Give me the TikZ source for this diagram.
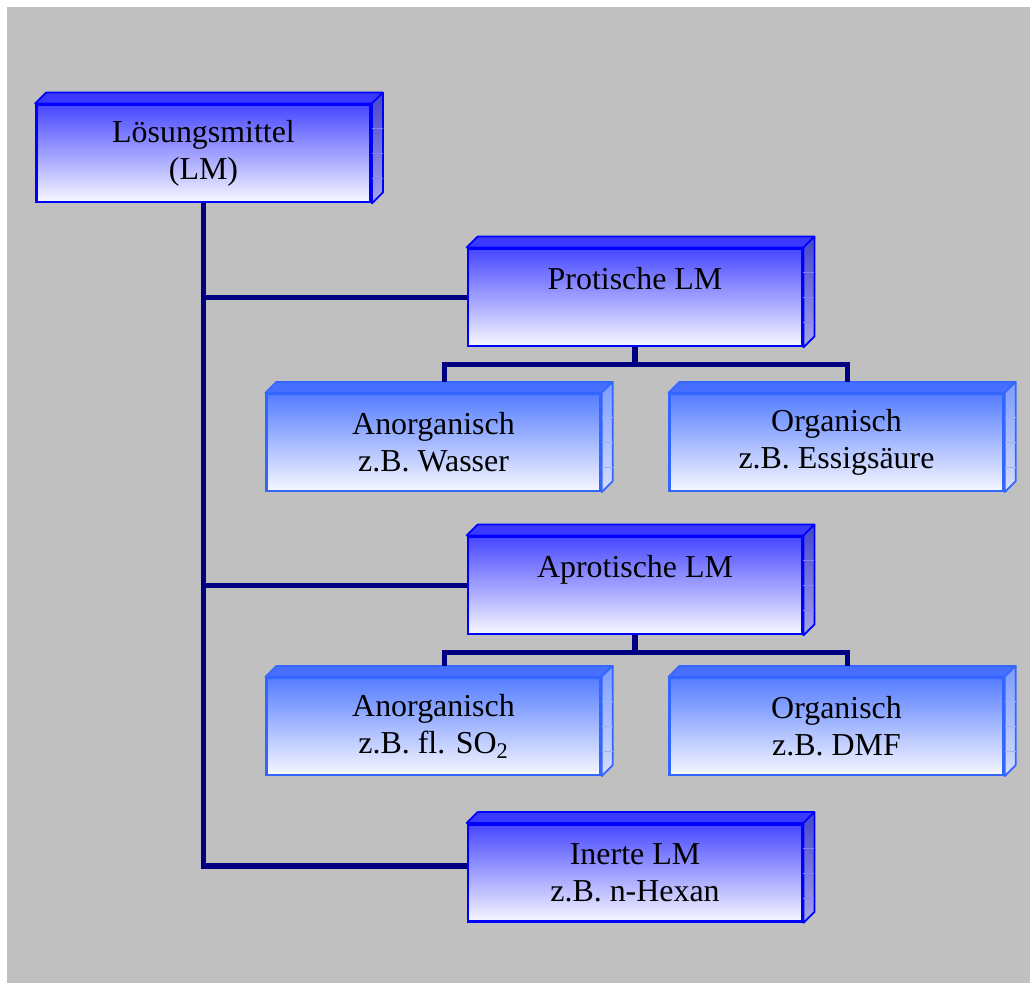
\documentclass[tikz,border=0pt]{standalone}
\usepackage{fontspec}
\setmainfont{Liberation Serif}
\usetikzlibrary{calc}
\definecolor{bggrey}{RGB}{192,192,192}
\definecolor{wirenavy}{RGB}{0,0,128}
\definecolor{mainedge}{RGB}{0,0,255}
\definecolor{maintop}{RGB}{58,58,255}
\definecolor{mainfront}{RGB}{72,72,255}
\definecolor{mainside}{RGB}{68,68,205}
\definecolor{mainsidelow}{RGB}{165,165,235}
\definecolor{subedge}{RGB}{51,102,255}
\definecolor{subtop}{RGB}{70,110,255}
\definecolor{subfront}{RGB}{85,125,255}
\definecolor{subside}{RGB}{125,155,255}
\definecolor{subsidelow}{RGB}{215,222,250}

% top and side face of a box node: node, edge, top face, side (upper, lower)
\newcommand\slab[5]{%
  \filldraw[fill=#3, draw=#2, line width=1.2pt, line join=round]
    (#1.north west) -- ++(11,11) -- ([shift={(11,11)}]#1.north east) -- (#1.north east) -- cycle;
  \shade[top color=#4, bottom color=#5, draw=#2, line width=1.2pt, line join=round]
    (#1.north east) -- ++(11,11) -- ([shift={(11,11)}]#1.south east) -- (#1.south east) -- cycle;
  \foreach \f in {0.25,0.5,0.75}
    \draw[#2!50!white, line width=0.5pt]
      ($(#1.north east)!\f!(#1.south east)$) -- ++(11,0);
}

\begin{document}
\begin{tikzpicture}[x=0.025cm, y=0.025cm,
  box/.style={minimum width=8.35cm, minimum height=2.425cm, inner sep=0pt, align=center,
    font=\fontsize{22.7}{26.5}\selectfont},
  main/.style={box, draw=mainedge, line width=2pt, top color=mainfront, bottom color=white!97!blue},
  sub/.style={box, draw=subedge, line width=1.6pt, top color=subfront, bottom color=white!97!blue},
  wire/.style={draw=wirenavy, line width=3.6pt}]
  \useasboundingbox (0,0) rectangle (1030,-983);
  \fill[bggrey] (7,-7) rectangle (1030,-983);

  \node[main] (LM) at (203.5,-153.5) {Lösungsmittel\\(LM)};
  \node[main] (Pr) at (635,-297.5) {Protische LM\\ \mbox{}};
  \node[sub] (A1) at (433.5,-442.5) {Anorganisch\\z.B. Wasser};
  \node[sub] (O1) at (836.5,-442.5) {Organisch\\z.B. Essigsäure};
  \node[main] (Ap) at (635,-585.5) {Aprotische LM\\ \mbox{}};
  \node[sub] (A2) at (433.5,-726.5) {Anorganisch\\z.B. fl. SO\textsubscript{2}};
  \node[sub] (O2) at (836.5,-726.5) {Organisch\\z.B. DMF};
  \node[main] (In) at (635,-873) {Inerte LM\\z.B. n-Hexan};

  \slab{LM}{mainedge}{maintop}{mainside}{mainsidelow}
  \slab{Pr}{mainedge}{maintop}{mainside}{mainsidelow}
  \slab{Ap}{mainedge}{maintop}{mainside}{mainsidelow}
  \slab{In}{mainedge}{maintop}{mainside}{mainsidelow}
  \slab{A1}{subedge}{subtop}{subside}{subsidelow}
  \slab{O1}{subedge}{subtop}{subside}{subsidelow}
  \slab{A2}{subedge}{subtop}{subside}{subsidelow}
  \slab{O2}{subedge}{subtop}{subside}{subsidelow}

  \coordinate (pj1) at (635,-364.5);
  \coordinate (pj2) at (635,-652.5);

  % trunk
  \draw[wire] (LM.south) |- (Pr.west);
  \draw[wire] (LM.south) |- (Ap.west);
  \draw[wire] (LM.south) |- ([yshift=0.175cm]In.west);
  % branches
  \draw[wire] (Pr.south) -- (pj1);
  \draw[wire] ([shift={(11,11)}]A1.north) |- (pj1) -| ([shift={(11,11)}]O1.north);
  \draw[wire] (Ap.south) -- (pj2);
  \draw[wire] ([shift={(11,11)}]A2.north) |- (pj2) -| ([shift={(11,11)}]O2.north);
\end{tikzpicture}
\end{document}
